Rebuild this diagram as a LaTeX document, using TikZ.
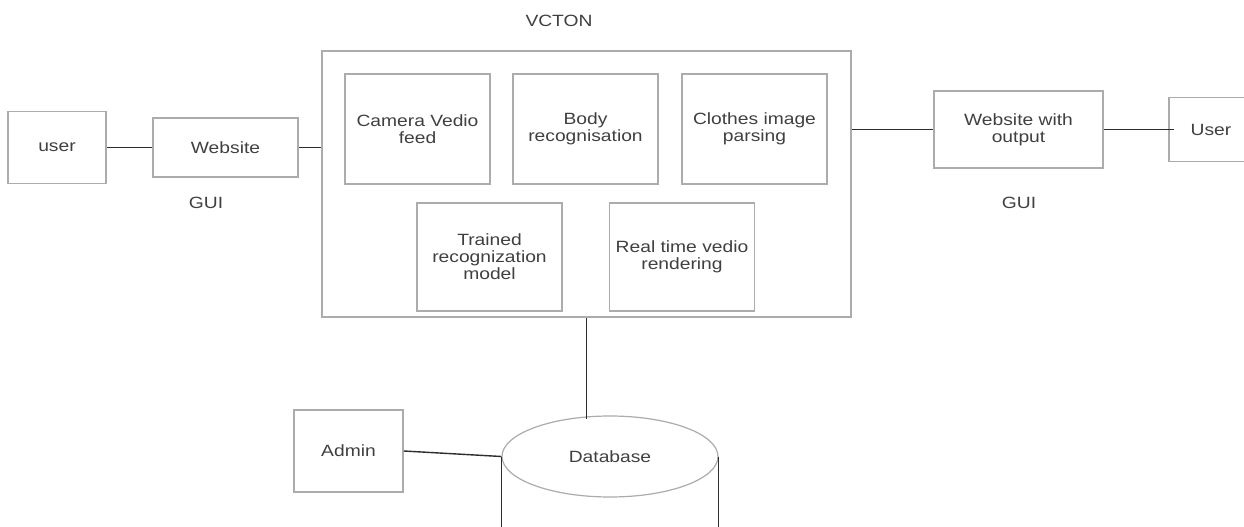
\documentclass[tikz,border=0pt]{standalone}
\usepackage{fontspec}
\setmainfont[FakeStretch=1.18]{Liberation Sans}
\usepackage{xcolor}
\usetikzlibrary{shapes.geometric}
\definecolor{boxgray}{RGB}{172,172,172}
\definecolor{linegray}{RGB}{45,45,45}
\definecolor{textgray}{RGB}{64,64,64}

\begin{document}
\begin{tikzpicture}[x=1pt, y=-1pt,
		font=\fontsize{16.3}{17}\selectfont, text=textgray,
		box/.style={draw=boxgray, line width=1.6pt, align=center, inner sep=0pt},
		conn/.style={draw=linegray, line width=1.4pt}]
		\fill[white] (0,0) rectangle (1244,527);
		\useasboundingbox (0,0) rectangle (1244,527);
		\coordinate (bottom) at (0,527);
		% left side
		\node (user) at (57,147.5) [box, minimum width=98pt, minimum height=72pt] {user};
		\node (website) at (225.5,147.5) [box, minimum width=145pt, minimum height=59pt] {Website};
		\node (gui) at (206,203) {GUI};
		% the system
		\node (vcton) at (559,21) {VCTON};
		\node (core) at (586.5,184) [box, minimum width=529pt, minimum height=266pt] {};
		\node (camera) at (417.5,129) [box, minimum width=145pt, minimum height=110pt] {Camera Vedio\\feed};
		\node (body) at (585.5,129) [box, minimum width=145pt, minimum height=110pt] {Body\\recognisation};
		\node (clothes) at (754.5,129) [box, minimum width=145pt, minimum height=110pt] {Clothes image\\parsing};
		\node (trained) at (489.5,257) [box, minimum width=145pt, minimum height=108pt] {Trained\\recognization\\model};
		\node (render) at (682,257) [box, minimum width=145pt, minimum height=108pt] {Real time vedio\\rendering};
		% right side
		\node (webout) at (1018.5,129.5) [box, minimum width=169pt, minimum height=77pt] {Website with\\output};
		\node (user2) at (1211,129.5) [box, minimum width=84pt, minimum height=64pt] {User};
		\node (gui2) at (1019,203) {GUI};
		% storage
		\node (admin) at (348.5,451) [box, minimum width=109pt, minimum height=82pt] {Admin};
		\node (db) at (610,456.5) [ellipse, draw=boxgray, line width=1.2pt, minimum width=216pt, minimum height=81pt, inner sep=0pt] {Database};
		\draw[conn] (user) -- (website);
		\draw[conn] (website.east) -- (website.east -| core.west);
		\draw[conn] (core.east |- webout.west) -- (webout.west);
		\draw[conn] (webout.east) -- ([xshift=6pt]user2.west);
		\draw[conn] (core.south) -- ([yshift=-4pt]core.south |- db.north);
		\draw[conn] (admin.east) -- (db.west);
		\draw[conn] (db.west) -- (db.west |- bottom);
		\draw[conn] (db.east) -- (db.east |- bottom);
\end{tikzpicture}
\end{document}
